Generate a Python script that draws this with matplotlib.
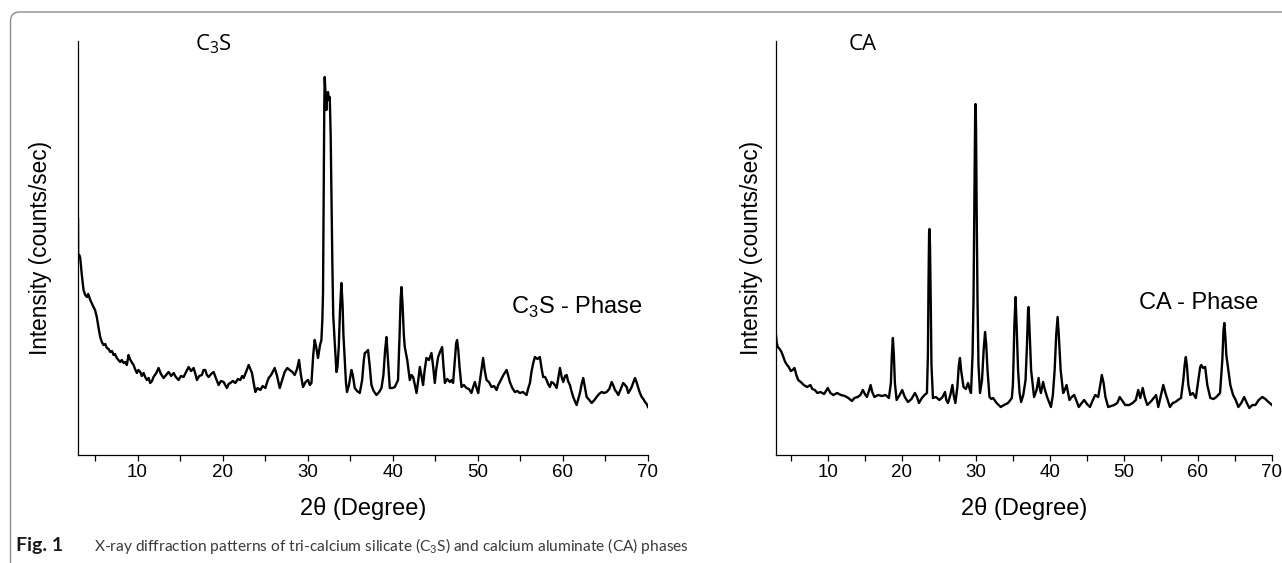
import matplotlib
matplotlib.use("Agg")
import matplotlib.pyplot as plt
from matplotlib.patches import FancyBboxPatch
from matplotlib.transforms import IdentityTransform

# C3S pattern: (2theta in deg, intensity in counts/sec, arbitrary scale)
c3s_pattern = [
    (3.0, 236), (3.02, 198), (3.15, 200), (3.26, 197), (3.45, 180), (3.65, 165),
    (3.85, 160), (4.04, 158), (4.2, 161), (4.44, 155), (4.6, 152), (4.82, 148),
    (5.0, 145), (5.21, 138), (5.4, 128), (5.61, 118), (5.8, 113), (6.0, 110),
    (6.2, 111), (6.39, 107), (6.6, 106), (6.79, 103), (7.0, 104), (7.18, 100),
    (7.35, 101), (7.56, 97), (7.75, 95), (7.96, 93), (8.15, 95), (8.35, 92),
    (8.55, 93), (8.74, 90), (8.94, 100), (9.1, 96), (9.3, 93), (9.53, 90),
    (9.7, 86), (9.92, 82), (10.1, 85), (10.32, 83), (10.5, 79), (10.71, 82),
    (10.9, 78), (11.09, 75), (11.3, 77), (11.49, 72), (11.7, 74), (11.88, 78),
    (12.2, 82), (12.47, 87), (12.75, 81), (13.06, 77), (13.35, 80), (13.65, 83),
    (13.95, 79), (14.24, 82), (14.5, 78), (14.82, 75), (15.1, 79), (15.41, 78),
    (15.7, 83), (16.0, 88), (16.3, 84), (16.59, 87), (16.8, 81), (16.98, 75),
    (17.25, 79), (17.56, 80), (17.75, 85), (17.96, 85), (18.15, 80), (18.35, 78),
    (18.65, 81), (18.94, 83), (19.25, 76), (19.53, 70), (19.8, 74), (20.12, 73),
    (20.3, 70), (20.51, 67), (20.7, 71), (20.91, 72), (21.2, 74), (21.49, 72),
    (21.8, 76), (22.08, 75), (22.3, 79), (22.47, 77), (22.8, 84), (23.06, 90),
    (23.25, 86), (23.45, 82), (23.65, 72), (23.85, 63), (24.1, 67), (24.44, 65),
    (24.7, 69), (25.02, 67), (25.2, 72), (25.41, 77), (25.7, 80), (26.0, 85),
    (26.12, 87), (26.4, 79), (26.71, 67), (27.0, 75), (27.29, 83), (27.6, 87),
    (27.88, 85), (28.2, 83), (28.47, 80), (28.75, 86), (28.98, 95), (29.2, 80),
    (29.45, 68), (29.75, 73), (30.04, 75), (30.25, 70), (30.44, 72), (30.65, 100),
    (30.82, 115), (31.0, 108), (31.21, 97), (31.45, 110), (31.61, 115), (31.72, 135),
    (31.8, 162), (31.88, 260), (31.95, 350), (32.0, 378), (32.1, 360), (32.2, 345),
    (32.3, 362), (32.39, 363), (32.5, 355), (32.59, 358), (32.7, 320), (32.79, 262),
    (32.9, 190), (33.0, 140), (33.18, 112), (33.38, 83), (33.5, 88), (33.65, 108),
    (33.8, 145), (33.96, 172), (34.1, 150), (34.2, 120), (34.35, 95), (34.5, 72),
    (34.62, 63), (34.85, 70), (35.14, 85), (35.3, 80), (35.53, 67), (35.8, 64),
    (36.12, 62), (36.4, 75), (36.6, 95), (36.71, 102), (36.9, 103), (37.09, 105),
    (37.3, 88), (37.49, 70), (37.75, 64), (38.08, 60), (38.4, 63), (38.67, 67),
    (38.9, 80), (39.1, 105), (39.26, 118), (39.4, 100), (39.65, 67), (39.95, 67),
    (40.24, 68), (40.45, 72), (40.62, 75), (40.8, 120), (40.92, 155), (41.02, 168),
    (41.15, 150), (41.3, 120), (41.41, 108), (41.7, 95), (42.0, 75), (42.2, 80),
    (42.39, 78), (42.6, 70), (42.79, 62), (43.0, 75), (43.18, 88), (43.4, 78),
    (43.56, 70), (43.75, 85), (43.96, 97), (44.25, 95), (44.55, 102), (44.75, 88),
    (44.94, 72), (45.1, 85), (45.33, 98), (45.55, 103), (45.8, 108), (45.95, 90),
    (46.12, 72), (46.4, 76), (46.71, 73), (46.9, 75), (47.09, 72), (47.3, 95),
    (47.45, 112), (47.56, 115), (47.7, 105), (47.85, 88), (48.08, 68), (48.35, 70),
    (48.66, 67), (48.95, 66), (49.25, 62), (49.45, 68), (49.65, 73), (49.85, 67),
    (50.04, 62), (50.3, 78), (50.62, 97), (50.8, 85), (51.02, 75), (51.3, 73),
    (51.61, 68), (51.9, 69), (52.2, 65), (52.4, 70), (52.59, 73), (53.0, 80),
    (53.38, 85), (53.55, 80), (53.76, 73), (54.05, 67), (54.35, 63), (54.65, 64),
    (54.94, 62), (55.3, 63), (55.73, 60), (55.9, 66), (56.12, 72), (56.3, 83),
    (56.51, 92), (56.71, 98), (57.0, 96), (57.29, 98), (57.5, 86), (57.68, 78),
    (57.9, 78), (58.08, 75), (58.25, 71), (58.47, 68), (58.65, 73), (58.86, 72),
    (59.05, 70), (59.26, 67), (59.45, 77), (59.65, 87), (59.85, 78), (60.04, 73),
    (60.25, 79), (60.44, 80), (60.6, 74), (60.82, 70), (61.0, 64), (61.21, 58),
    (61.4, 54), (61.61, 50), (61.8, 56), (62.0, 62), (62.2, 71), (62.39, 77),
    (62.6, 67), (62.79, 58), (63.1, 55), (63.38, 52), (63.7, 55), (63.96, 58),
    (64.25, 61), (64.55, 63), (64.85, 62), (65.14, 63), (65.45, 66), (65.73, 73),
    (65.9, 70), (66.12, 65), (66.3, 63), (66.51, 60), (66.8, 66), (67.09, 72),
    (67.3, 70), (67.49, 68), (67.68, 62), (67.9, 65), (68.08, 68), (68.25, 72),
    (68.47, 77), (68.65, 73), (68.86, 67), (69.05, 62), (69.26, 58), (69.45, 56),
    (69.65, 53), (69.85, 51), (70.0, 48),
]

# CA pattern
ca_pattern = [
    (3.0, 120), (3.1, 112), (3.24, 108), (3.5, 106), (3.74, 103), (4.0, 98),
    (4.24, 93), (4.5, 90), (4.72, 88), (5.0, 84), (5.24, 85), (5.5, 87),
    (5.75, 80), (6.0, 75), (6.35, 73), (6.75, 70), (7.2, 68), (7.65, 70),
    (7.9, 66), (8.24, 65), (8.6, 62), (9.0, 63), (9.5, 61), (10.0, 67),
    (10.35, 62), (10.76, 60), (11.25, 62), (11.76, 60), (12.3, 59), (12.77, 57),
    (13.25, 54), (13.6, 57), (14.03, 58), (14.4, 60), (14.73, 65), (15.0, 61),
    (15.28, 58), (15.55, 64), (15.78, 70), (16.0, 63), (16.29, 58), (16.8, 60),
    (17.3, 59), (17.8, 60), (18.25, 57), (18.52, 72), (18.65, 100), (18.79, 117),
    (18.92, 100), (19.06, 72), (19.29, 55), (19.7, 60), (20.05, 65), (20.4, 58),
    (20.82, 53), (21.3, 56), (21.77, 62), (22.05, 58), (22.31, 52), (22.7, 57),
    (23.07, 60), (23.39, 62), (23.52, 100), (23.6, 170), (23.68, 222), (23.73, 226),
    (23.8, 210), (23.9, 155), (24.0, 90), (24.2, 57), (24.6, 58), (25.07, 55),
    (25.5, 58), (25.83, 63), (26.0, 55), (26.23, 52), (26.55, 60), (26.83, 70),
    (27.0, 60), (27.23, 52), (27.5, 68), (27.7, 90), (27.85, 97), (28.0, 85),
    (28.33, 68), (28.65, 66), (28.94, 72), (29.15, 66), (29.34, 62), (29.55, 100),
    (29.68, 155), (29.8, 260), (29.9, 340), (29.95, 351), (30.02, 330), (30.1, 250),
    (30.22, 155), (30.35, 90), (30.56, 62), (30.83, 75), (31.05, 105), (31.24, 123),
    (31.4, 110), (31.57, 85), (31.84, 58), (32.1, 56), (32.32, 57), (32.8, 52),
    (33.36, 48), (33.8, 50), (34.35, 52), (34.86, 57), (35.0, 70), (35.09, 95),
    (35.2, 130), (35.36, 158), (35.5, 130), (35.7, 85), (35.9, 62), (36.11, 53),
    (36.4, 60), (36.71, 75), (36.9, 110), (37.05, 145), (37.12, 148), (37.25, 125),
    (37.46, 85), (37.86, 58), (38.2, 65), (38.47, 77), (38.6, 68), (38.78, 62),
    (39.08, 73), (39.3, 66), (39.62, 58), (40.14, 48), (40.4, 60), (40.64, 85),
    (40.85, 120), (41.04, 138), (41.2, 120), (41.45, 85), (41.79, 62), (42.0, 65),
    (42.25, 70), (42.45, 62), (42.64, 55), (42.95, 58), (43.28, 60), (43.6, 54),
    (43.9, 48), (44.3, 52), (44.63, 55), (45.0, 51), (45.41, 48), (45.8, 55),
    (46.12, 60), (46.52, 58), (46.8, 70), (47.01, 80), (47.25, 72), (47.5, 58),
    (47.87, 48), (48.3, 49), (48.68, 50), (49.1, 52), (49.43, 58), (49.8, 54),
    (50.17, 50), (50.7, 50), (51.17, 52), (51.6, 55), (51.93, 65), (52.2, 57),
    (52.54, 67), (52.8, 58), (53.15, 50), (53.7, 54), (54.34, 60), (54.64, 48),
    (55.0, 60), (55.31, 70), (55.6, 62), (56.21, 48), (56.6, 52), (56.94, 53),
    (57.3, 55), (57.71, 57), (58.02, 75), (58.2, 90), (58.36, 98), (58.5, 90),
    (58.7, 70), (58.97, 60), (59.3, 62), (59.71, 57), (60.05, 75), (60.3, 88),
    (60.45, 90), (60.7, 87), (60.97, 88), (61.26, 70), (61.67, 57), (62.1, 56),
    (62.48, 58), (62.98, 62), (63.29, 95), (63.45, 125), (63.56, 132), (63.7, 118),
    (63.83, 100), (64.1, 85), (64.37, 70), (64.74, 60), (65.1, 55), (65.45, 48),
    (65.85, 52), (66.24, 58), (66.6, 52), (66.94, 47), (67.35, 50), (67.76, 50),
    (68.2, 55), (68.7, 58), (69.1, 56), (69.52, 53), (70.0, 50),
]

x_major = [10, 20, 30, 40, 50, 60, 70]
x_minor = [5, 15, 25, 35, 45, 55, 65]

W, H = 1282, 563
fig = plt.figure(figsize=(W / 100, H / 100), dpi=100)

# rounded frame around figure + caption
frame = FancyBboxPatch((10.5, -40), 1400, 591, boxstyle="round,pad=0,rounding_size=9",
                       transform=IdentityTransform(), fill=False, ec="#8c8c8c", lw=1.0)
fig.patches.append(frame)

ax1 = fig.add_axes([78 / W, 108 / H, 570 / W, 414 / H])
ax2 = fig.add_axes([776 / W, 108 / H, 496 / W, 414 / H])

tick_font = dict(family="Liberation Sans", size=13.5)

for ax, pattern, ylab_x in [(ax1, c3s_pattern, -0.066),
                            (ax2, ca_pattern, -0.049)]:
    tt, cc = zip(*pattern)
    ax.plot(tt, cc, color="black", lw=1.7, solid_joinstyle="round")
    ax.set_xlim(3, 70)
    ax.set_ylim(0, 414)
    ax.set_yticks([])
    ax.set_xticks(x_major)
    ax.set_xticks(x_minor, minor=True)
    ax.set_xticklabels([str(v) for v in x_major], fontdict=tick_font)
    ax.tick_params(axis="x", which="both", direction="out", length=4, width=0.9, pad=2.5)
    for s in ("top", "right"):
        ax.spines[s].set_visible(False)
    for s in ("left", "bottom"):
        ax.spines[s].set_linewidth(0.9)
    ax.set_xlabel("2\u03b8 (Degree)", family="Liberation Sans", size=17)
    ax.xaxis.set_label_coords(0.5, -0.13)
    ax.xaxis.label.set_va("center")
    ax.set_ylabel("Intensity (counts/sec)", family="Liberation Sans", size=16.3)
    ax.yaxis.set_label_coords(ylab_x, 0.5)
    ax.yaxis.label.set_va("center")

# sample labels
fig.text(213 / W, 1 - 44 / H, r"C$_\mathregular{3}$S", family="Open Sans", size=16,
         ha="center", va="center")
fig.text(863 / W, 1 - 45 / H, "CA", family="Open Sans", size=16, ha="center", va="center")
fig.text(577 / W, 1 - 307 / H, r"C$_\mathregular{3}$S - Phase", family="Liberation Sans",
         size=17, ha="center", va="center")
fig.text(1199 / W, 1 - 303 / H, "CA - Phase", family="Liberation Sans", size=17,
         ha="center", va="center")

# caption
fig.text(16 / W, 1 - 551 / H, "Fig. 1", family="Lato", weight="bold", size=14,
         color="#1a1a1a", va="baseline")
fig.text(94 / W, 1 - 551 / H,
         r"X-ray diffraction patterns of tri-calcium silicate (C$_\mathregular{3}$S) and calcium aluminate (CA) phases",
         family="Lato", size=11.2, color="#3a3a3a", va="baseline")

fig.savefig("out.png", dpi=100)
